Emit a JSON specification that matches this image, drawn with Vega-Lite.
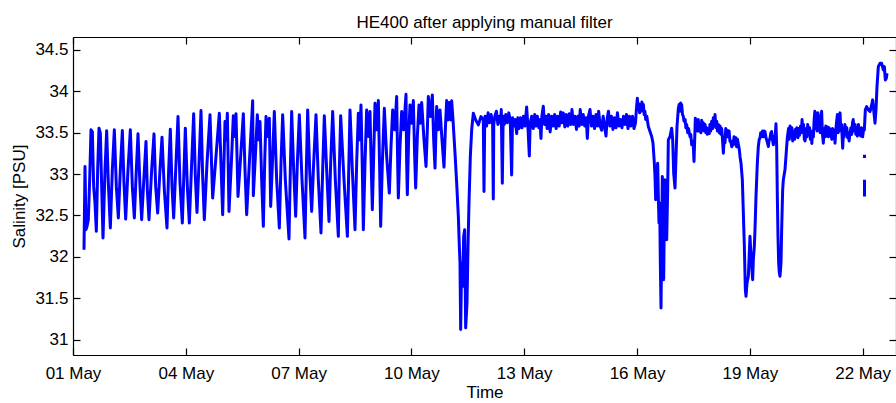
{
  "$schema": "https://vega.github.io/schema/vega-lite/v6.json",
  "autosize": {"type": "none"},
  "padding": {"left": 73, "top": 37, "right": 0, "bottom": 48},
  "width": 823,
  "height": 318,
  "background": "white",
  "config": {
    "view": {"stroke": null},
    "font": "Liberation Sans",
    "axis": {
      "domainColor": "black", "domainWidth": 1.2, "tickColor": "black", "tickWidth": 1.2,
      "labelColor": "black", "labelFont": "Liberation Sans", "labelFontSize": 17,
      "titleColor": "black", "titleFont": "Liberation Sans", "titleFontSize": 17, "titleFontWeight": "normal",
      "grid": false
    }
  },
  "title": {"text": "HE400 after applying manual filter", "fontSize": 17, "fontWeight": "normal", "font": "Liberation Sans", "color": "black", "baseline": "alphabetic", "offset": -9},
  "data": {"values": [
{"day":1.2926,"sal":32.086,"seg":"a"},{"day":1.3192,"sal":33.092,"seg":"a"},{"day":1.3458,"sal":32.328,"seg":"a"},{"day":1.3723,"sal":32.368,"seg":"a"},{"day":1.4078,"sal":32.448,"seg":"a"},{"day":1.4433,"sal":32.931,"seg":"a"},{"day":1.4787,"sal":33.535,"seg":"a"},{"day":1.5142,"sal":33.514,"seg":"a"},{"day":1.5497,"sal":32.851,"seg":"a"},{"day":1.5851,"sal":32.65,"seg":"a"},{"day":1.6206,"sal":32.308,"seg":"a"},{"day":1.656,"sal":33.052,"seg":"a"},{"day":1.6915,"sal":33.555,"seg":"a"},{"day":1.727,"sal":33.494,"seg":"a"},{"day":1.7624,"sal":32.851,"seg":"a"},{"day":1.7979,"sal":32.227,"seg":"a"},{"day":1.8511,"sal":33.052,"seg":"a"},{"day":1.8954,"sal":33.523,"seg":"a"},{"day":1.9397,"sal":32.891,"seg":"a"},{"day":1.9929,"sal":32.348,"seg":"a"},{"day":2.0461,"sal":33.052,"seg":"a"},{"day":2.0993,"sal":33.535,"seg":"a"},{"day":2.1525,"sal":32.851,"seg":"a"},{"day":2.2057,"sal":32.469,"seg":"a"},{"day":2.2589,"sal":33.052,"seg":"a"},{"day":2.3121,"sal":33.527,"seg":"a"},{"day":2.3564,"sal":32.891,"seg":"a"},{"day":2.4007,"sal":32.456,"seg":"a"},{"day":2.4628,"sal":33.052,"seg":"a"},{"day":2.5248,"sal":33.535,"seg":"a"},{"day":2.578,"sal":32.851,"seg":"a"},{"day":2.6312,"sal":32.469,"seg":"a"},{"day":2.6844,"sal":33.052,"seg":"a"},{"day":2.7287,"sal":33.486,"seg":"a"},{"day":2.7819,"sal":32.851,"seg":"a"},{"day":2.8262,"sal":32.448,"seg":"a"},{"day":2.8883,"sal":32.971,"seg":"a"},{"day":2.9415,"sal":33.394,"seg":"a"},{"day":2.977,"sal":32.81,"seg":"a"},{"day":3.0213,"sal":32.448,"seg":"a"},{"day":3.0922,"sal":33.052,"seg":"a"},{"day":3.1543,"sal":33.486,"seg":"a"},{"day":3.1986,"sal":32.851,"seg":"a"},{"day":3.2518,"sal":32.529,"seg":"a"},{"day":3.3138,"sal":33.052,"seg":"a"},{"day":3.367,"sal":33.446,"seg":"a"},{"day":3.4291,"sal":32.81,"seg":"a"},{"day":3.5,"sal":32.348,"seg":"a"},{"day":3.5443,"sal":33.052,"seg":"a"},{"day":3.5887,"sal":33.543,"seg":"a"},{"day":3.633,"sal":32.851,"seg":"a"},{"day":3.6773,"sal":32.469,"seg":"a"},{"day":3.7394,"sal":33.132,"seg":"a"},{"day":3.7926,"sal":33.696,"seg":"a"},{"day":3.8458,"sal":32.891,"seg":"a"},{"day":3.9078,"sal":32.408,"seg":"a"},{"day":3.9521,"sal":33.052,"seg":"a"},{"day":3.9876,"sal":33.555,"seg":"a"},{"day":4.0408,"sal":32.851,"seg":"a"},{"day":4.094,"sal":32.408,"seg":"a"},{"day":4.156,"sal":33.132,"seg":"a"},{"day":4.2092,"sal":33.728,"seg":"a"},{"day":4.2536,"sal":32.971,"seg":"a"},{"day":4.2979,"sal":32.537,"seg":"a"},{"day":4.3511,"sal":33.132,"seg":"a"},{"day":4.4043,"sal":33.768,"seg":"a"},{"day":4.4486,"sal":32.971,"seg":"a"},{"day":4.4929,"sal":32.448,"seg":"a"},{"day":4.5638,"sal":33.132,"seg":"a"},{"day":4.6436,"sal":33.716,"seg":"a"},
{"day":4.7145,"sal":32.71,"seg":"a"},{"day":4.8032,"sal":33.213,"seg":"a"},{"day":4.8918,"sal":33.736,"seg":"a"},{"day":4.9805,"sal":32.509,"seg":"a"},{"day":5.0425,"sal":33.635,"seg":"a"},{"day":5.078,"sal":33.414,"seg":"a"},{"day":5.1046,"sal":33.736,"seg":"a"},{"day":5.1489,"sal":32.549,"seg":"a"},{"day":5.211,"sal":33.132,"seg":"a"},{"day":5.2642,"sal":33.704,"seg":"a"},{"day":5.2996,"sal":33.454,"seg":"a"},{"day":5.3351,"sal":33.728,"seg":"a"},{"day":5.3883,"sal":32.73,"seg":"a"},{"day":5.4592,"sal":33.213,"seg":"a"},{"day":5.5301,"sal":33.728,"seg":"a"},{"day":5.5745,"sal":33.052,"seg":"a"},{"day":5.6188,"sal":32.509,"seg":"a"},{"day":5.6897,"sal":33.132,"seg":"a"},{"day":5.7784,"sal":33.885,"seg":"a"},{"day":5.7961,"sal":32.738,"seg":"a"},{"day":5.8493,"sal":33.213,"seg":"a"},{"day":5.9025,"sal":33.716,"seg":"a"},{"day":5.9379,"sal":33.414,"seg":"a"},{"day":5.9734,"sal":33.635,"seg":"a"},{"day":6.0177,"sal":32.931,"seg":"a"},{"day":6.062,"sal":32.368,"seg":"a"},{"day":6.0975,"sal":33.132,"seg":"a"},{"day":6.133,"sal":33.695,"seg":"a"},{"day":6.1773,"sal":33.454,"seg":"a"},{"day":6.2216,"sal":33.675,"seg":"a"},{"day":6.2571,"sal":32.609,"seg":"a"},{"day":6.3103,"sal":33.213,"seg":"a"},{"day":6.3546,"sal":33.756,"seg":"a"},{"day":6.4166,"sal":32.931,"seg":"a"},{"day":6.4876,"sal":32.348,"seg":"a"},{"day":6.5319,"sal":33.132,"seg":"a"},{"day":6.5762,"sal":33.716,"seg":"a"},{"day":6.6471,"sal":32.931,"seg":"a"},{"day":6.7447,"sal":32.215,"seg":"a"},{"day":6.7801,"sal":33.052,"seg":"a"},{"day":6.8156,"sal":33.756,"seg":"a"},{"day":6.8688,"sal":33.052,"seg":"a"},{"day":6.922,"sal":32.489,"seg":"a"},{"day":6.9663,"sal":33.132,"seg":"a"},{"day":7.0195,"sal":33.716,"seg":"a"},{"day":7.0904,"sal":32.931,"seg":"a"},{"day":7.1702,"sal":32.227,"seg":"a"},{"day":7.2057,"sal":33.052,"seg":"a"},{"day":7.2411,"sal":33.776,"seg":"a"},{"day":7.2943,"sal":33.052,"seg":"a"},{"day":7.3475,"sal":32.549,"seg":"a"},{"day":7.4007,"sal":33.132,"seg":"a"},{"day":7.4627,"sal":33.716,"seg":"a"},{"day":7.5248,"sal":32.931,"seg":"a"},{"day":7.5957,"sal":32.288,"seg":"a"},{"day":7.6401,"sal":33.052,"seg":"a"},{"day":7.6844,"sal":33.704,"seg":"a"},{"day":7.7464,"sal":33.052,"seg":"a"},{"day":7.8085,"sal":32.428,"seg":"a"},{"day":7.8528,"sal":33.132,"seg":"a"},{"day":7.906,"sal":33.756,"seg":"a"},{"day":7.9769,"sal":32.931,"seg":"a"},{"day":8.0567,"sal":32.247,"seg":"a"},{"day":8.0833,"sal":33.052,"seg":"a"},{"day":8.1188,"sal":33.704,"seg":"a"},{"day":8.2074,"sal":32.931,"seg":"a"},{"day":8.2975,"sal":32.247,"seg":"a"},
{"day":8.367,"sal":33.776,"seg":"a"},{"day":8.429,"sal":33.052,"seg":"a"},{"day":8.5,"sal":32.328,"seg":"a"},{"day":8.5443,"sal":33.132,"seg":"a"},{"day":8.5886,"sal":33.736,"seg":"a"},{"day":8.6241,"sal":33.414,"seg":"a"},{"day":8.6595,"sal":33.836,"seg":"a"},{"day":8.695,"sal":33.052,"seg":"a"},{"day":8.7216,"sal":32.328,"seg":"a"},{"day":8.7659,"sal":33.132,"seg":"a"},{"day":8.8102,"sal":33.776,"seg":"a"},{"day":8.8546,"sal":33.454,"seg":"a"},{"day":8.8989,"sal":33.756,"seg":"a"},{"day":8.9344,"sal":33.052,"seg":"a"},{"day":8.961,"sal":32.569,"seg":"a"},{"day":8.9964,"sal":33.213,"seg":"a"},{"day":9.0319,"sal":33.856,"seg":"a"},{"day":9.0762,"sal":33.535,"seg":"a"},{"day":9.1205,"sal":33.889,"seg":"a"},{"day":9.156,"sal":33.052,"seg":"a"},{"day":9.1826,"sal":32.368,"seg":"a"},{"day":9.2269,"sal":33.132,"seg":"a"},{"day":9.2801,"sal":33.796,"seg":"a"},{"day":9.3422,"sal":33.213,"seg":"a"},{"day":9.4131,"sal":32.77,"seg":"a"},{"day":9.4574,"sal":33.333,"seg":"a"},{"day":9.5017,"sal":33.776,"seg":"a"},{"day":9.5549,"sal":33.535,"seg":"a"},{"day":9.6081,"sal":33.937,"seg":"a"},{"day":9.6347,"sal":33.132,"seg":"a"},{"day":9.6524,"sal":32.71,"seg":"a"},{"day":9.6968,"sal":33.333,"seg":"a"},{"day":9.7411,"sal":33.756,"seg":"a"},{"day":9.7943,"sal":33.535,"seg":"a"},{"day":9.8563,"sal":33.965,"seg":"a"},{"day":9.8741,"sal":33.132,"seg":"a"},{"day":9.8918,"sal":32.75,"seg":"a"},{"day":9.9273,"sal":33.454,"seg":"a"},{"day":9.9627,"sal":33.836,"seg":"a"},{"day":10.007,"sal":33.615,"seg":"a"},{"day":10.0514,"sal":33.889,"seg":"a"},{"day":10.0868,"sal":33.213,"seg":"a"},{"day":10.1134,"sal":32.831,"seg":"a"},{"day":10.1578,"sal":33.454,"seg":"a"},{"day":10.2021,"sal":33.836,"seg":"a"},{"day":10.2375,"sal":33.615,"seg":"a"},{"day":10.273,"sal":33.864,"seg":"a"},{"day":10.3351,"sal":33.414,"seg":"a"},{"day":10.3883,"sal":33.092,"seg":"a"},{"day":10.4237,"sal":33.535,"seg":"a"},{"day":10.4503,"sal":33.937,"seg":"a"},{"day":10.5035,"sal":33.695,"seg":"a"},{"day":10.5567,"sal":33.957,"seg":"a"},{"day":10.5922,"sal":33.414,"seg":"a"},{"day":10.6276,"sal":33.072,"seg":"a"},{"day":10.6542,"sal":33.535,"seg":"a"},{"day":10.6719,"sal":33.816,"seg":"a"},{"day":10.7163,"sal":33.535,"seg":"a"},{"day":10.7606,"sal":33.776,"seg":"a"},{"day":10.8138,"sal":33.414,"seg":"a"},{"day":10.867,"sal":33.084,"seg":"a"},{"day":10.9024,"sal":33.535,"seg":"a"},{"day":10.9379,"sal":33.889,"seg":"a"},{"day":10.9734,"sal":33.655,"seg":"a"},{"day":11.0088,"sal":33.864,"seg":"a"},{"day":11.0443,"sal":33.655,"seg":"a"},{"day":11.0709,"sal":33.885,"seg":"a"},{"day":11.1063,"sal":33.655,"seg":"a"},{"day":11.1595,"sal":33.253,"seg":"a"},{"day":11.2039,"sal":32.891,"seg":"a"},{"day":11.2482,"sal":32.489,"seg":"a"},{"day":11.2748,"sal":32.127,"seg":"a"},{"day":11.2925,"sal":31.925,"seg":"a"},{"day":11.3102,"sal":31.121,"seg":"a"},{"day":11.328,"sal":31.684,"seg":"a"},{"day":11.3457,"sal":31.925,"seg":"a"},{"day":11.3634,"sal":31.644,"seg":"a"},{"day":11.39,"sal":32.247,"seg":"a"},{"day":11.4166,"sal":32.328,"seg":"a"},{"day":11.4432,"sal":31.141,"seg":"a"},{"day":11.4787,"sal":31.443,"seg":"a"},{"day":11.5053,"sal":32.127,"seg":"a"},{"day":11.5319,"sal":32.65,"seg":"a"},{"day":11.5673,"sal":33.213,"seg":"a"},{"day":11.6028,"sal":33.535,"seg":"a"},{"day":11.6471,"sal":33.736,"seg":"a"},{"day":11.7092,"sal":33.655,"seg":"a"},{"day":11.7801,"sal":33.595,"seg":"a"},{"day":11.851,"sal":33.695,"seg":"a"},
{"day":11.9127,"sal":33.655,"seg":"a"},{"day":11.9304,"sal":32.79,"seg":"a"},{"day":11.9481,"sal":33.575,"seg":"a"},
{"day":11.96,"sal":33.70,"seg":"a"},{"day":12.00,"sal":33.58,"seg":"a"},{"day":12.04,"sal":33.74,"seg":"a"},{"day":12.08,"sal":33.62,"seg":"a"},{"day":12.12,"sal":33.72,"seg":"a"},{"day":12.16,"sal":33.60,"seg":"a"},{"day":12.178,"sal":32.70,"seg":"a"},{"day":12.19,"sal":33.60,"seg":"a"},{"day":12.22,"sal":33.70,"seg":"a"},{"day":12.26,"sal":33.76,"seg":"a"},{"day":12.30,"sal":33.60,"seg":"a"},{"day":12.34,"sal":33.70,"seg":"a"},{"day":12.37,"sal":33.62,"seg":"a"},{"day":12.39,"sal":33.78,"seg":"a"},{"day":12.418,"sal":32.89,"seg":"a"},{"day":12.44,"sal":33.70,"seg":"a"},{"day":12.47,"sal":33.60,"seg":"a"},{"day":12.51,"sal":33.72,"seg":"a"},{"day":12.55,"sal":33.62,"seg":"a"},{"day":12.59,"sal":33.74,"seg":"a"},{"day":12.63,"sal":33.64,"seg":"a"},{"day":12.666,"sal":32.99,"seg":"a"},{"day":12.69,"sal":33.68,"seg":"a"},{"day":12.72,"sal":33.58,"seg":"a"},{"day":12.76,"sal":33.66,"seg":"a"},{"day":12.80,"sal":33.49,"seg":"a"},{"day":12.83,"sal":33.68,"seg":"a"},{"day":12.86,"sal":33.55,"seg":"a"},{"day":12.90,"sal":33.68,"seg":"a"},{"day":12.94,"sal":33.56,"seg":"a"},{"day":12.98,"sal":33.70,"seg":"a"},{"day":13.02,"sal":33.58,"seg":"a"},{"day":13.065,"sal":33.81,"seg":"a"},{"day":13.10,"sal":33.56,"seg":"a"},{"day":13.136,"sal":33.22,"seg":"a"},{"day":13.16,"sal":33.62,"seg":"a"},{"day":13.20,"sal":33.70,"seg":"a"},{"day":13.24,"sal":33.55,"seg":"a"},{"day":13.28,"sal":33.72,"seg":"a"},{"day":13.31,"sal":33.58,"seg":"a"},{"day":13.35,"sal":33.70,"seg":"a"},{"day":13.39,"sal":33.56,"seg":"a"},{"day":13.42,"sal":33.66,"seg":"a"},{"day":13.446,"sal":33.43,"seg":"a"},{"day":13.47,"sal":33.70,"seg":"a"},{"day":13.508,"sal":33.82,"seg":"a"},{"day":13.54,"sal":33.60,"seg":"a"},{"day":13.58,"sal":33.70,"seg":"a"},{"day":13.61,"sal":33.55,"seg":"a"},{"day":13.65,"sal":33.72,"seg":"a"},{"day":13.69,"sal":33.51,"seg":"a"},{"day":13.73,"sal":33.70,"seg":"a"},{"day":13.77,"sal":33.58,"seg":"a"},{"day":13.81,"sal":33.72,"seg":"a"},{"day":13.85,"sal":33.55,"seg":"a"},{"day":13.89,"sal":33.70,"seg":"a"},{"day":13.93,"sal":33.58,"seg":"a"},{"day":13.97,"sal":33.75,"seg":"a"},{"day":14.00,"sal":33.62,"seg":"a"},{"day":14.04,"sal":33.74,"seg":"a"},{"day":14.08,"sal":33.57,"seg":"a"},{"day":14.12,"sal":33.72,"seg":"a"},{"day":14.16,"sal":33.58,"seg":"a"},{"day":14.20,"sal":33.73,"seg":"a"},{"day":14.24,"sal":33.60,"seg":"a"},{"day":14.27,"sal":33.78,"seg":"a"},{"day":14.31,"sal":33.60,"seg":"a"},{"day":14.35,"sal":33.70,"seg":"a"},{"day":14.39,"sal":33.54,"seg":"a"},{"day":14.43,"sal":33.70,"seg":"a"},{"day":14.46,"sal":33.58,"seg":"a"},{"day":14.49,"sal":33.78,"seg":"a"},{"day":14.53,"sal":33.60,"seg":"a"},{"day":14.57,"sal":33.72,"seg":"a"},{"day":14.61,"sal":33.58,"seg":"a"},{"day":14.65,"sal":33.68,"seg":"a"},{"day":14.679,"sal":33.43,"seg":"a"},{"day":14.71,"sal":33.70,"seg":"a"},{"day":14.75,"sal":33.78,"seg":"a"},{"day":14.79,"sal":33.58,"seg":"a"},{"day":14.83,"sal":33.70,"seg":"a"},{"day":14.87,"sal":33.55,"seg":"a"},{"day":14.91,"sal":33.72,"seg":"a"},{"day":14.95,"sal":33.58,"seg":"a"},{"day":14.98,"sal":33.76,"seg":"a"},{"day":15.02,"sal":33.58,"seg":"a"},{"day":15.06,"sal":33.53,"seg":"a"},{"day":15.10,"sal":33.70,"seg":"a"},{"day":15.14,"sal":33.57,"seg":"a"},{"day":15.175,"sal":33.46,"seg":"a"},{"day":15.21,"sal":33.68,"seg":"a"},{"day":15.24,"sal":33.76,"seg":"a"},{"day":15.28,"sal":33.58,"seg":"a"},{"day":15.32,"sal":33.70,"seg":"a"},{"day":15.36,"sal":33.54,"seg":"a"},{"day":15.40,"sal":33.68,"seg":"a"},{"day":15.44,"sal":33.56,"seg":"a"},{"day":15.48,"sal":33.74,"seg":"a"},{"day":15.52,"sal":33.58,"seg":"a"},{"day":15.56,"sal":33.66,"seg":"a"},{"day":15.60,"sal":33.56,"seg":"a"},{"day":15.64,"sal":33.70,"seg":"a"},{"day":15.68,"sal":33.60,"seg":"a"},{"day":15.72,"sal":33.72,"seg":"a"},{"day":15.76,"sal":33.55,"seg":"a"},{"day":15.80,"sal":33.70,"seg":"a"},{"day":15.84,"sal":33.58,"seg":"a"},{"day":15.88,"sal":33.70,"seg":"a"},{"day":15.92,"sal":33.55,"seg":"a"},{"day":15.96,"sal":33.62,"seg":"a"},
{"day":15.9824,"sal":33.776,"seg":"a"},{"day":16.009,"sal":33.917,"seg":"a"},{"day":16.03,"sal":33.78,"seg":"a"},{"day":16.05,"sal":33.85,"seg":"a"},{"day":16.07,"sal":33.74,"seg":"a"},{"day":16.09,"sal":33.83,"seg":"a"},{"day":16.11,"sal":33.76,"seg":"a"},{"day":16.13,"sal":33.87,"seg":"a"},{"day":16.15,"sal":33.78,"seg":"a"},{"day":16.17,"sal":33.84,"seg":"a"},{"day":16.19,"sal":33.72,"seg":"a"},{"day":16.21,"sal":33.76,"seg":"a"},{"day":16.23,"sal":33.66,"seg":"a"},{"day":16.26,"sal":33.70,"seg":"a"},{"day":16.3015,"sal":33.575,"seg":"a"},{"day":16.3459,"sal":33.514,"seg":"a"},{"day":16.3902,"sal":33.454,"seg":"a"},{"day":16.4256,"sal":33.374,"seg":"a"},{"day":16.4611,"sal":33.132,"seg":"a"},{"day":16.4788,"sal":32.971,"seg":"a"},{"day":16.4966,"sal":32.69,"seg":"a"},{"day":16.5232,"sal":33.012,"seg":"a"},{"day":16.5498,"sal":33.132,"seg":"a"},{"day":16.5675,"sal":32.73,"seg":"a"},{"day":16.5852,"sal":32.408,"seg":"a"},{"day":16.6029,"sal":32.65,"seg":"a"},{"day":16.6207,"sal":31.925,"seg":"a"},{"day":16.6384,"sal":31.382,"seg":"a"},{"day":16.6561,"sal":32.127,"seg":"a"},{"day":16.6739,"sal":32.971,"seg":"a"},{"day":16.6916,"sal":32.328,"seg":"a"},{"day":16.7093,"sal":31.724,"seg":"a"},{"day":16.7271,"sal":32.489,"seg":"a"},{"day":16.7448,"sal":32.931,"seg":"a"},{"day":16.7625,"sal":32.65,"seg":"a"},{"day":16.7891,"sal":32.207,"seg":"a"},{"day":16.8157,"sal":32.81,"seg":"a"},{"day":16.8334,"sal":33.414,"seg":"a"},{"day":16.8778,"sal":33.454,"seg":"a"},{"day":16.9221,"sal":33.555,"seg":"a"},{"day":16.9487,"sal":33.414,"seg":"a"},{"day":16.9753,"sal":33.012,"seg":"a"},{"day":17.0107,"sal":32.831,"seg":"a"},{"day":17.0373,"sal":33.213,"seg":"a"},{"day":17.0639,"sal":33.575,"seg":"a"},{"day":17.0994,"sal":33.796,"seg":"a"},
{"day":17.12,"sal":33.84,"seg":"a"},{"day":17.14,"sal":33.76,"seg":"a"},{"day":17.16,"sal":33.86,"seg":"a"},{"day":17.188,"sal":33.836,"seg":"a"},{"day":17.21,"sal":33.72,"seg":"a"},{"day":17.23,"sal":33.70,"seg":"a"},{"day":17.25,"sal":33.64,"seg":"a"},{"day":17.28,"sal":33.66,"seg":"a"},{"day":17.30,"sal":33.56,"seg":"a"},{"day":17.32,"sal":33.60,"seg":"a"},{"day":17.35,"sal":33.50,"seg":"a"},{"day":17.37,"sal":33.55,"seg":"a"},{"day":17.41,"sal":33.45,"seg":"a"},{"day":17.43,"sal":33.48,"seg":"a"},{"day":17.454,"sal":33.354,"seg":"a"},{"day":17.47,"sal":33.40,"seg":"a"},{"day":17.4983,"sal":33.333,"seg":"a"},{"day":17.5161,"sal":33.152,"seg":"a"},{"day":17.5338,"sal":33.414,"seg":"a"},{"day":17.5515,"sal":33.675,"seg":"a"},{"day":17.57,"sal":33.55,"seg":"a"},{"day":17.587,"sal":33.62,"seg":"a"},{"day":17.61,"sal":33.52,"seg":"a"},{"day":17.63,"sal":33.66,"seg":"a"},{"day":17.65,"sal":33.52,"seg":"a"},{"day":17.676,"sal":33.60,"seg":"a"},{"day":17.70,"sal":33.50,"seg":"a"},{"day":17.72,"sal":33.65,"seg":"a"},{"day":17.74,"sal":33.53,"seg":"a"},{"day":17.764,"sal":33.62,"seg":"a"},{"day":17.79,"sal":33.52,"seg":"a"},{"day":17.81,"sal":33.60,"seg":"a"},{"day":17.83,"sal":33.50,"seg":"a"},{"day":17.853,"sal":33.56,"seg":"a"},{"day":17.87,"sal":33.48,"seg":"a"},{"day":17.897,"sal":33.54,"seg":"a"},{"day":17.92,"sal":33.49,"seg":"a"},{"day":17.94,"sal":33.60,"seg":"a"},{"day":17.96,"sal":33.52,"seg":"a"},{"day":17.986,"sal":33.64,"seg":"a"},{"day":18.01,"sal":33.55,"seg":"a"},{"day":18.03,"sal":33.68,"seg":"a"},{"day":18.05,"sal":33.58,"seg":"a"},{"day":18.075,"sal":33.72,"seg":"a"},{"day":18.10,"sal":33.56,"seg":"a"},{"day":18.12,"sal":33.64,"seg":"a"},{"day":18.14,"sal":33.52,"seg":"a"},{"day":18.163,"sal":33.60,"seg":"a"},{"day":18.19,"sal":33.50,"seg":"a"},{"day":18.21,"sal":33.58,"seg":"a"},{"day":18.23,"sal":33.48,"seg":"a"},{"day":18.252,"sal":33.55,"seg":"a"},{"day":18.27,"sal":33.45,"seg":"a"},{"day":18.296,"sal":33.253,"seg":"a"},{"day":18.32,"sal":33.44,"seg":"a"},{"day":18.34,"sal":33.38,"seg":"a"},{"day":18.36,"sal":33.55,"seg":"a"},{"day":18.38,"sal":33.45,"seg":"a"},{"day":18.40,"sal":33.53,"seg":"a"},{"day":18.43,"sal":33.45,"seg":"a"},{"day":18.45,"sal":33.52,"seg":"a"},{"day":18.47,"sal":33.40,"seg":"a"},{"day":18.50,"sal":33.38,"seg":"a"},{"day":18.52,"sal":33.33,"seg":"a"},{"day":18.54,"sal":33.40,"seg":"a"},{"day":18.56,"sal":33.35,"seg":"a"},{"day":18.58,"sal":33.45,"seg":"a"},{"day":18.61,"sal":33.37,"seg":"a"},{"day":18.63,"sal":33.44,"seg":"a"},{"day":18.65,"sal":33.33,"seg":"a"},{"day":18.67,"sal":33.42,"seg":"a"},{"day":18.695,"sal":33.36,"seg":"a"},{"day":18.72,"sal":33.30,"seg":"a"},{"day":18.74,"sal":33.21,"seg":"a"},
{"day":18.7661,"sal":33.132,"seg":"a"},{"day":18.8015,"sal":32.931,"seg":"a"},{"day":18.8281,"sal":32.529,"seg":"a"},{"day":18.8547,"sal":32.127,"seg":"a"},{"day":18.8813,"sal":31.604,"seg":"a"},{"day":18.899,"sal":31.523,"seg":"a"},{"day":18.9256,"sal":31.684,"seg":"a"},{"day":18.9611,"sal":31.765,"seg":"a"},
{"day":19.005,"sal":32.247,"seg":"a"},{"day":19.0316,"sal":32.006,"seg":"a"},{"day":19.0759,"sal":31.724,"seg":"a"},{"day":19.0937,"sal":31.966,"seg":"a"},{"day":19.1202,"sal":32.127,"seg":"a"},{"day":19.138,"sal":32.328,"seg":"a"},{"day":19.1646,"sal":32.73,"seg":"a"},{"day":19.2,"sal":33.132,"seg":"a"},{"day":19.2266,"sal":33.333,"seg":"a"},{"day":19.25,"sal":33.42,"seg":"a"},{"day":19.271,"sal":33.434,"seg":"a"},{"day":19.29,"sal":33.50,"seg":"a"},{"day":19.315,"sal":33.454,"seg":"a"},{"day":19.34,"sal":33.52,"seg":"a"},{"day":19.36,"sal":33.45,"seg":"a"},{"day":19.38,"sal":33.52,"seg":"a"},{"day":19.404,"sal":33.514,"seg":"a"},{"day":19.43,"sal":33.44,"seg":"a"},{"day":19.448,"sal":33.414,"seg":"a"},{"day":19.47,"sal":33.38,"seg":"a"},{"day":19.493,"sal":33.333,"seg":"a"},{"day":19.51,"sal":33.40,"seg":"a"},{"day":19.537,"sal":33.434,"seg":"a"},{"day":19.56,"sal":33.50,"seg":"a"},{"day":19.58,"sal":33.514,"seg":"a"},{"day":19.60,"sal":33.42,"seg":"a"},{"day":19.626,"sal":33.354,"seg":"a"},{"day":19.65,"sal":33.46,"seg":"a"},{"day":19.67,"sal":33.414,"seg":"a"},
{"day":19.6965,"sal":33.607,"seg":"a"},{"day":19.7142,"sal":33.333,"seg":"a"},{"day":19.732,"sal":32.73,"seg":"a"},{"day":19.7497,"sal":32.247,"seg":"a"},{"day":19.7674,"sal":31.925,"seg":"a"},{"day":19.7851,"sal":31.805,"seg":"a"},{"day":19.8029,"sal":31.765,"seg":"a"},{"day":19.8295,"sal":31.925,"seg":"a"},{"day":19.8472,"sal":32.328,"seg":"a"},{"day":19.8738,"sal":32.81,"seg":"a"},{"day":19.8915,"sal":32.931,"seg":"a"},{"day":19.9359,"sal":33.052,"seg":"a"},{"day":19.9802,"sal":33.333,"seg":"a"},
{"day":20.00,"sal":33.45,"seg":"a"},{"day":20.03,"sal":33.55,"seg":"a"},{"day":20.05,"sal":33.42,"seg":"a"},{"day":20.07,"sal":33.58,"seg":"a"},{"day":20.10,"sal":33.46,"seg":"a"},{"day":20.12,"sal":33.56,"seg":"a"},{"day":20.14,"sal":33.40,"seg":"a"},{"day":20.16,"sal":33.50,"seg":"a"},{"day":20.19,"sal":33.42,"seg":"a"},{"day":20.21,"sal":33.54,"seg":"a"},{"day":20.23,"sal":33.45,"seg":"a"},{"day":20.25,"sal":33.56,"seg":"a"},{"day":20.28,"sal":33.44,"seg":"a"},{"day":20.30,"sal":33.55,"seg":"a"},{"day":20.32,"sal":33.47,"seg":"a"},{"day":20.35,"sal":33.58,"seg":"a"},{"day":20.37,"sal":33.50,"seg":"a"},{"day":20.39,"sal":33.66,"seg":"a"},{"day":20.41,"sal":33.52,"seg":"a"},{"day":20.43,"sal":33.60,"seg":"a"},{"day":20.45,"sal":33.42,"seg":"a"},{"day":20.47,"sal":33.40,"seg":"a"},{"day":20.50,"sal":33.55,"seg":"a"},{"day":20.52,"sal":33.45,"seg":"a"},{"day":20.54,"sal":33.60,"seg":"a"},{"day":20.56,"sal":33.48,"seg":"a"},{"day":20.59,"sal":33.56,"seg":"a"},{"day":20.61,"sal":33.42,"seg":"a"},{"day":20.63,"sal":33.50,"seg":"a"},{"day":20.65,"sal":33.37,"seg":"a"},{"day":20.67,"sal":33.52,"seg":"a"},{"day":20.69,"sal":33.45,"seg":"a"},{"day":20.71,"sal":33.65,"seg":"a"},{"day":20.73,"sal":33.76,"seg":"a"},{"day":20.75,"sal":33.55,"seg":"a"},{"day":20.77,"sal":33.70,"seg":"a"},{"day":20.79,"sal":33.52,"seg":"a"},{"day":20.81,"sal":33.74,"seg":"a"},{"day":20.83,"sal":33.58,"seg":"a"},{"day":20.85,"sal":33.70,"seg":"a"},{"day":20.87,"sal":33.50,"seg":"a"},{"day":20.89,"sal":33.68,"seg":"a"},{"day":20.91,"sal":33.76,"seg":"a"},{"day":20.93,"sal":33.50,"seg":"a"},{"day":20.955,"sal":33.374,"seg":"a"},{"day":20.98,"sal":33.55,"seg":"a"},{"day":21.00,"sal":33.45,"seg":"a"},{"day":21.02,"sal":33.58,"seg":"a"},{"day":21.04,"sal":33.46,"seg":"a"},{"day":21.07,"sal":33.57,"seg":"a"},{"day":21.09,"sal":33.45,"seg":"a"},{"day":21.11,"sal":33.56,"seg":"a"},{"day":21.13,"sal":33.47,"seg":"a"},{"day":21.15,"sal":33.54,"seg":"a"},{"day":21.18,"sal":33.42,"seg":"a"},{"day":21.20,"sal":33.55,"seg":"a"},{"day":21.22,"sal":33.45,"seg":"a"},{"day":21.245,"sal":33.53,"seg":"a"},{"day":21.266,"sal":33.374,"seg":"a"},{"day":21.29,"sal":33.55,"seg":"a"},{"day":21.31,"sal":33.64,"seg":"a"},{"day":21.33,"sal":33.72,"seg":"a"},{"day":21.35,"sal":33.50,"seg":"a"},{"day":21.37,"sal":33.66,"seg":"a"},{"day":21.40,"sal":33.74,"seg":"a"},{"day":21.42,"sal":33.52,"seg":"a"},{"day":21.44,"sal":33.60,"seg":"a"},{"day":21.47,"sal":33.313,"seg":"a"},{"day":21.49,"sal":33.50,"seg":"a"},{"day":21.51,"sal":33.45,"seg":"a"},{"day":21.53,"sal":33.60,"seg":"a"},{"day":21.55,"sal":33.48,"seg":"a"},{"day":21.58,"sal":33.56,"seg":"a"},{"day":21.60,"sal":33.44,"seg":"a"},{"day":21.62,"sal":33.50,"seg":"a"},{"day":21.64,"sal":33.40,"seg":"a"},{"day":21.66,"sal":33.48,"seg":"a"},{"day":21.69,"sal":33.56,"seg":"a"},{"day":21.71,"sal":33.48,"seg":"a"},{"day":21.73,"sal":33.62,"seg":"a"},{"day":21.75,"sal":33.66,"seg":"a"},{"day":21.77,"sal":33.52,"seg":"a"},{"day":21.80,"sal":33.60,"seg":"a"},{"day":21.82,"sal":33.48,"seg":"a"},{"day":21.84,"sal":33.56,"seg":"a"},{"day":21.86,"sal":33.46,"seg":"a"},{"day":21.89,"sal":33.60,"seg":"a"},{"day":21.91,"sal":33.48,"seg":"a"},{"day":21.93,"sal":33.54,"seg":"a"},{"day":21.95,"sal":33.46,"seg":"a"},{"day":21.97,"sal":33.56,"seg":"a"},{"day":22.00,"sal":33.45,"seg":"a"},{"day":22.02,"sal":33.52,"seg":"a"},
{"day":22.046,"sal":33.535,"seg":"a"},{"day":22.0724,"sal":33.776,"seg":"a"},{"day":22.1078,"sal":33.816,"seg":"a"},{"day":22.1522,"sal":33.776,"seg":"a"},{"day":22.1965,"sal":33.756,"seg":"a"},{"day":22.2408,"sal":33.836,"seg":"a"},{"day":22.2674,"sal":33.897,"seg":"a"},{"day":22.3029,"sal":33.736,"seg":"a"},{"day":22.3295,"sal":33.615,"seg":"a"},{"day":22.3561,"sal":33.776,"seg":"a"},{"day":22.3827,"sal":34.058,"seg":"a"},{"day":22.4181,"sal":34.299,"seg":"a"},{"day":22.4624,"sal":34.339,"seg":"a"},{"day":22.5068,"sal":34.339,"seg":"a"},{"day":22.5511,"sal":34.259,"seg":"a"},{"day":22.5777,"sal":34.299,"seg":"a"},{"day":22.6043,"sal":34.138,"seg":"a"},{"day":22.6309,"sal":34.158,"seg":"a"},{"day":22.6486,"sal":34.218,"seg":"a"},
{"day":22.05,"sal":32.931,"seg":"b"},{"day":22.0505,"sal":32.73,"seg":"b"},
{"day":22.05,"sal":33.233,"seg":"c"},{"day":22.0505,"sal":33.193,"seg":"c"}
  ]},
  "layer": [
    {
      "mark": {"type": "line", "color": "#0000ff", "strokeWidth": 3, "clip": true, "strokeJoin": "round"},
      "encoding": {
        "x": {"field": "day", "type": "quantitative", "scale": {"domain": [1, 22.888], "nice": false, "zero": false},
          "axis": {"orient": "bottom", "title": "Time", "values": [1, 4, 7, 10, 13, 16, 19, 22], "labelExpr": "(datum.value < 10 ? '0' : '') + datum.value + ' May'", "tickSize": -7, "labelPadding": 17, "titlePadding": 3, "labelFlush": false, "labelOverlap": false}},
        "y": {"field": "sal", "type": "quantitative", "scale": {"domain": [30.813, 34.657], "nice": false, "zero": false},
          "axis": {"orient": "left", "title": "Salinity [PSU]", "values": [31, 31.5, 32, 32.5, 33, 33.5, 34, 34.5], "format": "~g", "tickSize": -7, "labelPadding": 12, "titlePadding": 6, "labelFlush": false, "labelOverlap": false}},
        "detail": {"field": "seg", "type": "nominal"}
      }
    },
    {
      "mark": {"type": "line", "opacity": 0, "clip": true},
      "encoding": {
        "x": {"field": "day", "type": "quantitative", "scale": {"domain": [1, 22.888], "nice": false, "zero": false},
          "axis": {"orient": "top", "title": null, "values": [1, 4, 7, 10, 13, 16, 19, 22], "labels": false, "tickSize": -7}},
        "y": {"field": "sal", "type": "quantitative", "scale": {"domain": [30.813, 34.657], "nice": false, "zero": false},
          "axis": {"orient": "right", "title": null, "values": [31, 31.5, 32, 32.5, 33, 33.5, 34, 34.5], "labels": false, "tickSize": -7}},
        "detail": {"field": "seg", "type": "nominal"}
      }
    }
  ],
  "resolve": {"axis": {"x": "independent", "y": "independent"}}
}
